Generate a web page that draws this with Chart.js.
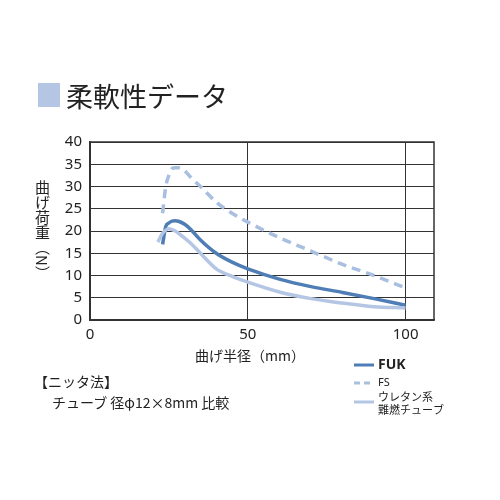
<!DOCTYPE html>
<html><head><meta charset="utf-8">
<script src="https://cdn.jsdelivr.net/npm/chart.js@4"></script>
<style>
body{margin:0;background:#fff;font-family:"Noto Sans CJK JP",sans-serif;color:#222}
#wrap{position:relative;width:500px;height:500px}
canvas{position:absolute;left:0;top:0}
.t{position:absolute;white-space:nowrap}
</style></head><body>
<div id="wrap">
<canvas id="c" width="500" height="500"></canvas>
<div class="t" style="left:38px;top:83px;width:22px;height:24px;background:#b4c6e4"></div>
<div class="t" style="left:66px;top:76px;font-size:27px">柔軟性データ</div>
<div class="t" style="left:32px;top:180px;font-size:15px;writing-mode:vertical-rl;">曲げ荷重（N）</div>
<div class="t" style="left:195px;top:345px;font-size:14px">曲げ半径（mm）</div>
<div class="t" style="left:34px;top:371px;font-size:14px">【ニッタ法】</div>
<div class="t" style="left:52px;top:392px;font-size:14px">チューブ 径φ12×8mm 比較</div>
</div>
<script>
const radius = [21.5, 23, 24, 25, 26, 27, 28, 30, 32, 35, 40, 45, 50, 60, 70, 80, 90, 100];
const fuk = [null, 17, 21, 21.8, 22.2, 22.3, 22.2, 21.5, 20.3, 18, 15, 13, 11.5, 9.2, 7.5, 6.2, 4.8, 3.3];
const fs = [null, 24, 30, 32.5, 34, 34.2, 34.2, 33.5, 32, 30, 26.5, 24, 22, 18.5, 15.5, 12.5, 10, 7.2];
const urethane = [17.5, 19.5, 20.2, 20.5, 20.3, 20, 19.5, 18.4, 17.2, 15, 11.5, 9.8, 8.5, 6.3, 4.8, 3.8, 3, 2.7];
const xTicks = [0, 50, 100];

const pts = a => radius.map((x, i) => ({x, y: a[i]})).filter(p => p.y !== null);
const ds = (label, data, color, dash) => ({
  label, data: pts(data), borderColor: color, borderWidth: 3.5, borderDash: dash,
  pointRadius: 0, tension: 0.4, cubicInterpolationMode: 'monotone', fill: false
});

new Chart(document.getElementById('c'), {
  type: 'line',
  data: {datasets: [
    ds('ウレタン系 難燃チューブ', urethane, '#b4c6e4', []),
    ds('FS', fs, '#a9bfe0', [9, 6]),
    ds('FUK', fuk, '#4f7db5', [])
  ]},
  options: {
    responsive: false, animation: false,
    layout: {padding: {top: 142, right: 66, bottom: 140, left: 0}},
    plugins: {
      legend: {display: false},
      tooltip: {enabled: false}
    },
    scales: {
      x: {
        type: 'linear', min: 0, max: 109,
        afterBuildTicks: s => { s.ticks = xTicks.map(v => ({value: v})); },
        afterFit: s => { s.height = 40; },
        grid: {color: '#333', lineWidth: 1, drawTicks: false},
        border: {color: '#333', width: 1.5},
        ticks: {color: '#222', font: {size: 15, family: 'Noto Sans'}, padding: 6}
      },
      y: {
        min: 0, max: 40,
        afterFit: s => { s.width = 90; },
        grid: {color: '#333', lineWidth: 1, drawTicks: false},
        border: {color: '#333', width: 1.5},
        ticks: {stepSize: 5, color: '#222', font: {size: 15, family: 'Noto Sans'}, padding: 8}
      }
    }
  },
  plugins: [{
    id: 'frame',
    afterDraw(chart) {
      const {ctx, chartArea: a} = chart;
      ctx.save();
      ctx.strokeStyle = '#333'; ctx.lineWidth = 1.5;
      ctx.strokeRect(a.left, a.top, a.right - a.left, a.bottom - a.top);
      // legend
      const items = [['FUK', '#4f7db5', []], ['FS', '#a9bfe0', [6, 4]], ['ウレタン系', '#b4c6e4', []]];
      ctx.font = '14px "Noto Sans CJK JP"';
      ctx.fillStyle = '#222';
      ctx.lineWidth = 3;
      const ys = [365, 383, 402];
      items.forEach((it, i) => {
        ctx.strokeStyle = it[1]; ctx.setLineDash(it[2]);
        ctx.beginPath(); ctx.moveTo(354, ys[i]); ctx.lineTo(374, ys[i]); ctx.stroke();
      });
      ctx.setLineDash([]);
      ctx.textBaseline = 'middle';
      ctx.font = 'bold 14px "Noto Sans"'; ctx.fillText('FUK', 378, 365);
      ctx.font = '11px "Noto Sans"'; ctx.fillText('FS', 378, 383);
      ctx.font = '11px "Noto Sans CJK JP"';
      ctx.fillText('ウレタン系', 378, 397);
      ctx.fillText('難燃チューブ', 378, 410);
      ctx.restore();
    }
  }]
});
</script>
</body></html>
